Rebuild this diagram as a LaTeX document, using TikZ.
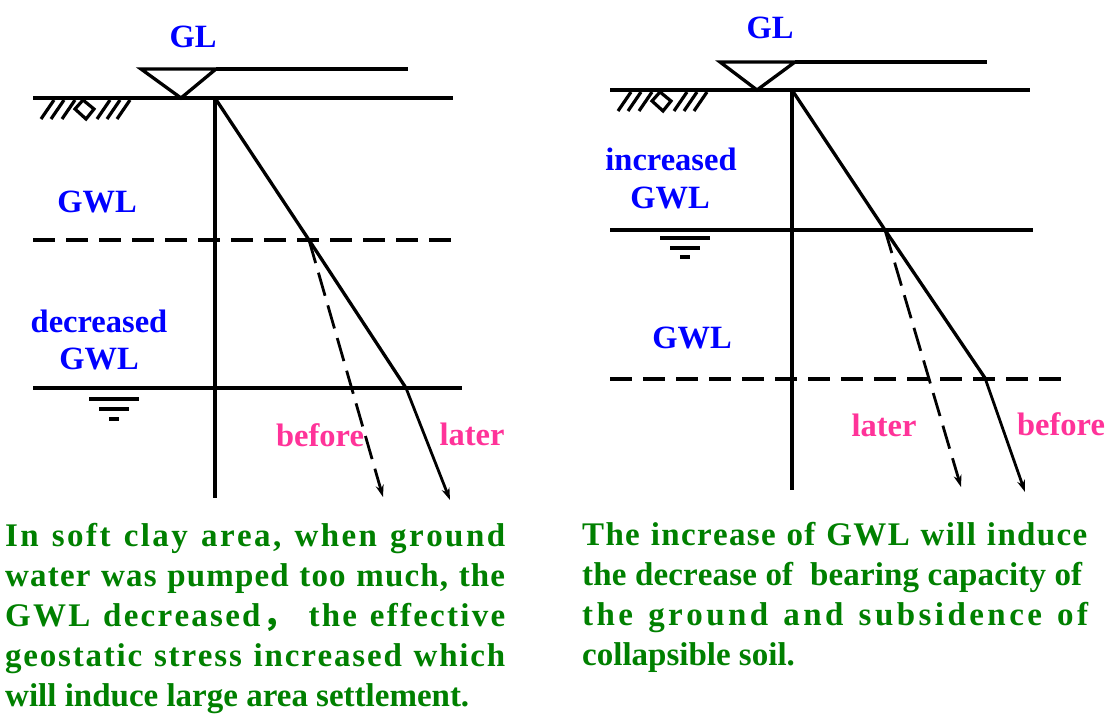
\documentclass[tikz,border=0pt]{standalone}
\usepackage{fontspec}
\setmainfont{Liberation Serif}
\newfontfamily\cjk{Noto Sans CJK SC}
\usetikzlibrary{arrows.meta}
\definecolor{lblblue}{RGB}{0,0,255}
\definecolor{lblpink}{RGB}{255,51,153}
\definecolor{txtgreen}{RGB}{0,128,0}
\makeatletter
\newcommand\distline[2]{\makebox[#1][s]{\@tfor\dl@c:=#2\do{\dl@c\hfil}\unskip}}
\makeatother
\begin{document}
\begin{tikzpicture}[x=1pt,y=-1pt,
  ln/.style={line width=3.3pt},
  dsh/.style={line width=3.3pt, dash pattern=on 22pt off 11pt},
  arr/.style={line width=2.8pt,-{Stealth[length=12pt,width=8pt]}},
  lbl/.style={font=\bfseries\fontsize{32.5}{38}\selectfont, text=lblblue, inner sep=0pt, anchor=base},
  plbl/.style={lbl, text=lblpink},
  gtxt/.style={font=\bfseries\fontsize{33}{40}\selectfont, text=txtgreen, inner sep=0pt, anchor=base west},
  hatchln/.style={line width=3.2pt}]
\useasboundingbox (0,0) rectangle (1116,715);

% ---------- hatch macro as scopes ----------
\newcommand\groundhatch[2]{%
  \begin{scope}[shift={(#1,#2)}]
    \draw[hatchln] (0,21) -- (13,2) (10,21) -- (23,2) (21,21) -- (34,2);
    \draw[hatchln, line join=miter] (34,11) -- (42,2) -- (53,11) -- (45,21) -- cycle;
    \draw[hatchln] (56,21) -- (69,2) (66,21) -- (79,2) (76,21) -- (89,2);
  \end{scope}}

% ================= LEFT =================
\coordinate (LgA) at (141,69);
\coordinate (LgB) at (216,69);
\coordinate (LgC) at (181,98);
\coordinate (LgE) at (408,69);
\draw[ln, line join=miter] (LgA) -- (LgC) -- (LgB) -- cycle;
\draw[ln] (LgB) -- (LgE);
\coordinate (LG1) at (33,98);
\coordinate (LG2) at (453,98);
\draw[ln] (LG1) -- (LG2);
\groundhatch{41}{98}
\coordinate (LO) at (215,98);
\coordinate (LV) at (215,498);
\draw[ln] (LO) -- (LV);
\coordinate (LD1) at (33,240);
\coordinate (LD2) at (458,240);
\draw[dsh] (LD1) -- (LD2);
\coordinate (LS1) at (33,388);
\coordinate (LS2) at (462,388);
\draw[ln] (LS1) -- (LS2);
\coordinate (LP1) at (309,240);
\coordinate (LP2) at (406,388);
\coordinate (LA1) at (450,500);
\coordinate (LA2) at (383,497);
\draw[ln, line join=round] (LO) -- (LP1) -- (LP2);
\draw[arr] (LP2) -- (LA1);
\draw[arr, dash pattern=on 24pt off 10pt] (LP1) -- (LA2);
\coordinate (Lw1a) at (89,399); \coordinate (Lw1b) at (139,399);
\coordinate (Lw2a) at (99,409); \coordinate (Lw2b) at (129,409);
\coordinate (Lw3a) at (109,419); \coordinate (Lw3b) at (119,419);
\draw[ln] (Lw1a) -- (Lw1b) (Lw2a) -- (Lw2b) (Lw3a) -- (Lw3b);

\node[lbl] (lGL) at (193,47) {GL};
\node[lbl] (lGWL) at (97,212) {GWL};
\node[lbl] (ldec) at (99,332) {decreased};
\node[lbl] (lGWL2) at (99,369) {GWL};
\node[plbl] (lbef) at (320,446) {before};
\node[plbl] (llat) at (472,445) {later};

% ================= RIGHT =================
\coordinate (RgA) at (720,62);
\coordinate (RgB) at (795,62);
\coordinate (RgC) at (757,90);
\coordinate (RgE) at (987,62);
\draw[ln, line join=miter] (RgA) -- (RgC) -- (RgB) -- cycle;
\draw[ln] (RgB) -- (RgE);
\coordinate (RG1) at (610,90);
\coordinate (RG2) at (1030,90);
\draw[ln] (RG1) -- (RG2);
\groundhatch{618}{90}
\coordinate (RO) at (792,90);
\coordinate (RV) at (792,490);
\draw[ln] (RO) -- (RV);
\coordinate (RS1) at (610,230);
\coordinate (RS2) at (1033,230);
\draw[ln] (RS1) -- (RS2);
\coordinate (RD1) at (610,379);
\coordinate (RD2) at (1062,379);
\draw[dsh] (RD1) -- (RD2);
\coordinate (RP1) at (885,230);
\coordinate (RP2) at (985,378);
\coordinate (RA1) at (1025,492);
\coordinate (RA2) at (961,487);
\draw[ln, line join=round] (RO) -- (RP1) -- (RP2);
\draw[arr] (RP2) -- (RA1);
\draw[arr, dash pattern=on 24pt off 10pt] (RP1) -- (RA2);
\coordinate (Rw1a) at (660,238); \coordinate (Rw1b) at (710,238);
\coordinate (Rw2a) at (670,248); \coordinate (Rw2b) at (700,248);
\coordinate (Rw3a) at (680,257); \coordinate (Rw3b) at (690,257);
\draw[ln] (Rw1a) -- (Rw1b) (Rw2a) -- (Rw2b) (Rw3a) -- (Rw3b);

\node[lbl] (rGL) at (770,38) {GL};
\node[lbl] (rinc) at (671,170) {increased};
\node[lbl] (rGWL) at (670,208) {GWL};
\node[lbl] (rGWL2) at (692,348) {GWL};
\node[plbl] (rlat) at (884,436) {later};
\node[plbl] (rbef) at (1061,435) {before};

% ================= TEXT =================
\node[gtxt] (t1) at (5,546) {\distline{500pt}{In~soft~clay~area,~when~ground}};
\node[gtxt] (t2) at (5,586) {\distline{500pt}{water~was~pumped~too~much,~the}};
\node[gtxt] (t3) at (5,626) {\distline{500pt}{GWL~decreased{{\cjk ，}}~the~effective}};
\node[gtxt] (t4) at (5,666) {\distline{500pt}{geostatic~stress~increased~which}};
\node[gtxt] (t5) at (5,706) {will induce large area settlement.};

\node[gtxt] (u1) at (582,545) {\distline{505pt}{The~increase~of~GWL~will~induce}};
\node[gtxt] (u2) at (582,585) {\distline{500pt}{the~decrease~of~~bearing~capacity~of}};
\node[gtxt] (u3) at (582,625) {\distline{506pt}{the~ground~and~subsidence~of}};
\node[gtxt] (u4) at (582,665) {collapsible soil.};
\end{tikzpicture}
\end{document}
